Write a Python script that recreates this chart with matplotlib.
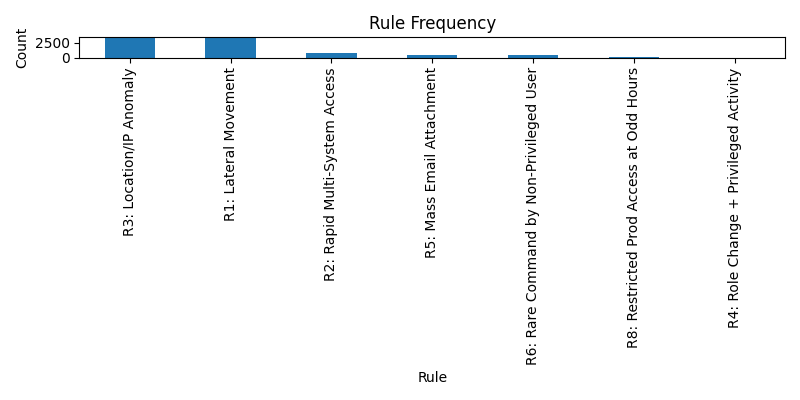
import matplotlib
matplotlib.use("Agg")
import matplotlib.pyplot as plt
import numpy as np

# Rule hit counts
rules = [
    "R3: Location/IP Anomaly",
    "R1: Lateral Movement",
    "R2: Rapid Multi-System Access",
    "R5: Mass Email Attachment",
    "R6: Rare Command by Non-Privileged User",
    "R8: Restricted Prod Access at Odd Hours",
    "R4: Role Change + Privileged Activity",
]
counts = [3200, 3190, 750, 450, 430, 150, 10]

fig, ax = plt.subplots(figsize=(8, 4), dpi=100)
x = np.arange(len(rules))
ax.bar(x, counts, width=0.5, color="#1f77b4")
ax.set_xticks(x)
ax.set_xticklabels(rules, rotation=90)
ax.set_xlim(-0.5, len(rules) - 0.5)
ax.set_title("Rule Frequency")
ax.set_xlabel("Rule")
ax.set_ylabel("Count")

plt.tight_layout()
plt.savefig("out.png")
